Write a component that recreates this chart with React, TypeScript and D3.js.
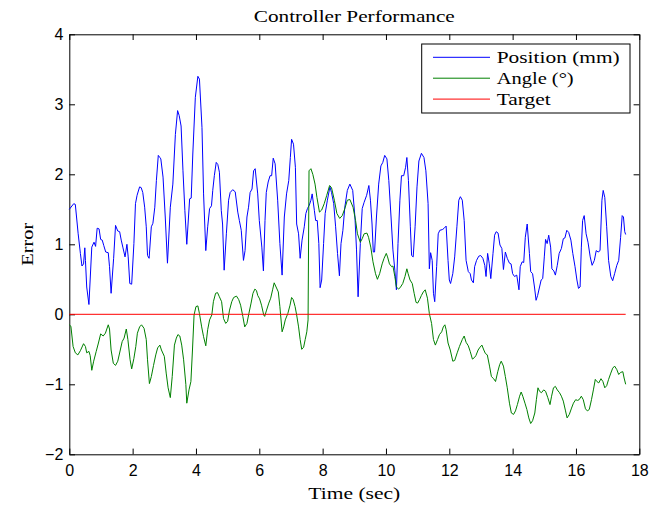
import { useEffect, useRef } from "react";
import * as d3 from "d3";

// [time (sec), error]
const positionData: [number, number][] = [
  [0, 1.5], [0.14, 1.58], [0.19, 1.57], [0.28, 1.15], [0.35, 0.87], [0.4, 0.69], [0.45, 0.72], [0.49, 0.95],
  [0.51, 0.77], [0.55, 0.39], [0.62, 0.14], [0.71, 0.96], [0.78, 1.03], [0.83, 0.97], [0.88, 1.23], [0.94, 1.22],
  [0.99, 1.07], [1.04, 1.06], [1.09, 0.98], [1.15, 0.89], [1.23, 0.88], [1.27, 0.68], [1.32, 0.3], [1.4, 0.8],
  [1.46, 1.27], [1.53, 1.19], [1.59, 1.18], [1.64, 1.06], [1.69, 0.96], [1.76, 0.82], [1.82, 1.0], [1.86, 0.82],
  [1.91, 0.44], [1.97, 0.43], [2.04, 1.01], [2.09, 1.58], [2.14, 1.7], [2.22, 1.82], [2.27, 1.81], [2.32, 1.74],
  [2.38, 1.53], [2.43, 1.25], [2.47, 0.84], [2.52, 0.8], [2.59, 1.25], [2.64, 1.3], [2.7, 1.53], [2.75, 1.91],
  [2.81, 2.27], [2.86, 2.24], [2.89, 2.22], [2.96, 1.96], [3.03, 1.39], [3.1, 0.73], [3.19, 1.53], [3.27, 1.86],
  [3.35, 2.57], [3.42, 2.91], [3.47, 2.84], [3.53, 2.69], [3.59, 2.05], [3.65, 1.48], [3.71, 1.0], [3.8, 1.65],
  [3.85, 1.66], [3.9, 2.29], [3.98, 3.1], [4.06, 3.4], [4.11, 3.36], [4.19, 2.67], [4.24, 1.72], [4.31, 0.91],
  [4.37, 1.25], [4.43, 1.51], [4.49, 1.55], [4.53, 1.77], [4.58, 1.98], [4.64, 2.17], [4.69, 2.14], [4.74, 2.03],
  [4.8, 1.48], [4.84, 1.29], [4.89, 0.63], [4.96, 1.15], [5.03, 1.63], [5.08, 1.74], [5.16, 1.78], [5.24, 1.75],
  [5.32, 1.46], [5.37, 1.34], [5.43, 1.2], [5.5, 0.77], [5.55, 0.91], [5.61, 1.39], [5.66, 1.53], [5.71, 1.74],
  [5.77, 1.79], [5.82, 2.05], [5.87, 2.08], [5.95, 1.72], [6.0, 1.34], [6.08, 0.96], [6.13, 0.62], [6.18, 1.34],
  [6.22, 1.74], [6.28, 1.89], [6.34, 1.98], [6.39, 1.98], [6.44, 2.23], [6.5, 2.15], [6.58, 1.63], [6.65, 1.01],
  [6.72, 0.56], [6.79, 1.39], [6.86, 1.72], [6.93, 1.91], [6.98, 2.24], [7.02, 2.5], [7.08, 2.43], [7.14, 2.1],
  [7.18, 1.29], [7.24, 1.15], [7.29, 0.8], [7.35, 1.06], [7.42, 1.25], [7.47, 1.44], [7.52, 1.51], [7.58, 1.56],
  [7.63, 1.63], [7.67, 1.72], [7.74, 1.48], [7.78, 1.34], [7.83, 1.34], [7.88, 1.01], [7.92, 0.38], [7.97, 0.49],
  [8.03, 1.01], [8.08, 1.44], [8.15, 1.63], [8.23, 1.82], [8.28, 1.74], [8.35, 1.58], [8.41, 1.25], [8.47, 0.87],
  [8.53, 0.55], [8.58, 1.01], [8.64, 1.2], [8.7, 1.53], [8.78, 1.77], [8.86, 1.86], [8.95, 1.77], [9.02, 1.39],
  [9.07, 0.92], [9.12, 0.25], [9.19, 1.01], [9.25, 1.51], [9.31, 1.6], [9.39, 1.7], [9.46, 1.84], [9.51, 1.63],
  [9.56, 1.29], [9.6, 0.89], [9.64, 0.89], [9.7, 1.39], [9.77, 1.86], [9.84, 2.12], [9.9, 2.17], [9.96, 2.27],
  [10.03, 2.22], [10.09, 1.91], [10.16, 1.39], [10.22, 0.92], [10.28, 0.63], [10.33, 0.35], [10.38, 1.01],
  [10.44, 1.63], [10.49, 1.98], [10.56, 1.98], [10.62, 2.1], [10.66, 2.24], [10.71, 1.91], [10.77, 1.25],
  [10.81, 0.84], [10.86, 0.82], [10.92, 1.25], [10.98, 1.82], [11.04, 2.19], [11.12, 2.3], [11.2, 2.24],
  [11.26, 2.05], [11.33, 1.58], [11.37, 0.65], [11.41, 0.88], [11.46, 0.77], [11.5, 0.3], [11.54, 0.18],
  [11.6, 0.68], [11.65, 1.15], [11.7, 1.2], [11.78, 1.21], [11.84, 1.23], [11.9, 1.26], [11.96, 0.77], [12.0, 0.49],
  [12.04, 0.44], [12.11, 0.58], [12.17, 0.82], [12.24, 1.25], [12.3, 1.63], [12.35, 1.68], [12.41, 1.63],
  [12.47, 1.34], [12.53, 0.77], [12.6, 0.61], [12.66, 0.58], [12.7, 0.49], [12.76, 0.45], [12.8, 0.68],
  [12.86, 0.77], [12.93, 0.83], [12.99, 0.84], [13.06, 0.8], [13.12, 0.7], [13.16, 0.54], [13.21, 0.87],
  [13.26, 0.73], [13.31, 0.51], [13.38, 0.87], [13.43, 1.13], [13.48, 1.18], [13.54, 1.16], [13.6, 0.99],
  [13.66, 0.94], [13.71, 0.64], [13.77, 0.89], [13.83, 0.8], [13.9, 0.73], [13.95, 0.72], [14.0, 0.58],
  [14.06, 0.54], [14.13, 0.56], [14.2, 0.35], [14.24, 0.68], [14.3, 0.75], [14.35, 0.74], [14.4, 1.1],
  [14.46, 1.29], [14.53, 0.87], [14.57, 0.61], [14.63, 0.58], [14.69, 0.39], [14.74, 0.2], [14.79, 0.27],
  [14.85, 0.39], [14.9, 0.49], [14.95, 0.51], [15.0, 0.82], [15.04, 1.07], [15.09, 1.01], [15.14, 1.13],
  [15.2, 0.96], [15.24, 0.65], [15.3, 0.62], [15.35, 0.56], [15.41, 0.7], [15.47, 0.87], [15.54, 0.94],
  [15.6, 1.08], [15.65, 1.09], [15.71, 1.2], [15.77, 1.17], [15.84, 1.06], [15.9, 0.87], [15.97, 0.68],
  [16.03, 0.49], [16.08, 0.37], [16.13, 0.39], [16.17, 0.96], [16.21, 1.34], [16.26, 1.41], [16.32, 1.15],
  [16.38, 1.03], [16.45, 0.82], [16.51, 0.7], [16.58, 0.77], [16.64, 0.91], [16.7, 0.89], [16.76, 0.91],
  [16.82, 1.63], [16.86, 1.77], [16.91, 1.67], [16.97, 1.25], [17.03, 0.77], [17.1, 0.54], [17.16, 0.48],
  [17.22, 0.58], [17.29, 0.7], [17.35, 0.77], [17.41, 1.1], [17.46, 1.41], [17.5, 1.39], [17.54, 1.18], [17.57, 1.14],
];

const angleData: [number, number][] = [
  [0, -0.15], [0.05, -0.17], [0.12, -0.46], [0.19, -0.55], [0.27, -0.58], [0.35, -0.52], [0.45, -0.42],
  [0.51, -0.46], [0.55, -0.55], [0.62, -0.53], [0.66, -0.59], [0.71, -0.8], [0.77, -0.67], [0.85, -0.53],
  [0.92, -0.41], [0.99, -0.28], [1.07, -0.31], [1.14, -0.27], [1.23, -0.15], [1.27, -0.21], [1.32, -0.51],
  [1.39, -0.7], [1.46, -0.73], [1.53, -0.67], [1.61, -0.51], [1.67, -0.39], [1.73, -0.34], [1.8, -0.21],
  [1.85, -0.36], [1.92, -0.65], [1.97, -0.78], [2.04, -0.63], [2.1, -0.46], [2.15, -0.27], [2.22, -0.18],
  [2.28, -0.15], [2.36, -0.2], [2.43, -0.36], [2.47, -0.65], [2.53, -0.99], [2.59, -0.89], [2.66, -0.73],
  [2.73, -0.58], [2.79, -0.48], [2.86, -0.44], [2.91, -0.51], [3.0, -0.6], [3.06, -0.84], [3.12, -1.05],
  [3.19, -1.19], [3.25, -0.89], [3.32, -0.44], [3.38, -0.34], [3.43, -0.29], [3.49, -0.31], [3.55, -0.44],
  [3.61, -0.65], [3.68, -1.0], [3.71, -1.27], [3.78, -1.08], [3.84, -0.96], [3.89, -0.51], [3.94, -0.01],
  [4.0, 0.11], [4.06, 0.12], [4.11, 0.01], [4.18, -0.18], [4.24, -0.32], [4.31, -0.45], [4.37, -0.22],
  [4.43, -0.08], [4.5, -0.01], [4.55, 0.18], [4.62, 0.3], [4.68, 0.31], [4.74, 0.25], [4.81, 0.18],
  [4.87, -0.06], [4.94, -0.13], [5.0, -0.1], [5.06, 0.06], [5.13, 0.18], [5.19, 0.24], [5.28, 0.26],
  [5.35, 0.21], [5.41, 0.13], [5.48, -0.03], [5.54, -0.18], [5.61, -0.13], [5.67, 0.01], [5.74, 0.16],
  [5.8, 0.3], [5.86, 0.36], [5.91, 0.34], [5.95, 0.27], [6.01, 0.22], [6.07, 0.13], [6.14, -0.01],
  [6.17, -0.03], [6.23, 0.06], [6.3, 0.16], [6.36, 0.23], [6.42, 0.35], [6.47, 0.45], [6.53, 0.39],
  [6.6, 0.32], [6.65, 0.11], [6.72, -0.25], [6.77, -0.18], [6.82, -0.08], [6.9, 0.01], [6.97, 0.13],
  [7.02, 0.24], [7.07, 0.21], [7.13, 0.11], [7.18, -0.01], [7.24, -0.18], [7.29, -0.36], [7.34, -0.5],
  [7.4, -0.47], [7.45, -0.36], [7.5, -0.25], [7.54, -0.08], [7.57, 2.05], [7.63, 2.08], [7.69, 2.0],
  [7.76, 1.86], [7.82, 1.67], [7.9, 1.46], [7.97, 1.49], [8.05, 1.58], [8.13, 1.7], [8.22, 1.84],
  [8.28, 1.81], [8.37, 1.63], [8.45, 1.44], [8.54, 1.37], [8.62, 1.41], [8.7, 1.51], [8.78, 1.63],
  [8.86, 1.64], [8.96, 1.53], [9.04, 1.34], [9.1, 1.15], [9.19, 1.03], [9.25, 1.08], [9.31, 1.15],
  [9.4, 1.16], [9.45, 1.1], [9.52, 0.96], [9.59, 0.75], [9.67, 0.58], [9.73, 0.5], [9.8, 0.58], [9.88, 0.72],
  [9.94, 0.8], [10.01, 0.87], [10.05, 0.82], [10.11, 0.72], [10.18, 0.68], [10.22, 0.69], [10.28, 0.54],
  [10.33, 0.39], [10.4, 0.36], [10.46, 0.39], [10.53, 0.44], [10.6, 0.54], [10.66, 0.65], [10.7, 0.58],
  [10.76, 0.49], [10.83, 0.44], [10.89, 0.3], [10.95, 0.17], [11.0, 0.16], [11.06, 0.21], [11.12, 0.27],
  [11.18, 0.32], [11.24, 0.35], [11.31, 0.23], [11.37, 0.01], [11.44, -0.13], [11.5, -0.36], [11.56, -0.44],
  [11.63, -0.36], [11.69, -0.29], [11.76, -0.25], [11.81, -0.18], [11.86, -0.15], [11.9, -0.22],
  [11.96, -0.41], [12.03, -0.51], [12.11, -0.67], [12.17, -0.66], [12.25, -0.55], [12.32, -0.46],
  [12.41, -0.36], [12.47, -0.31], [12.53, -0.4], [12.6, -0.45], [12.66, -0.53], [12.73, -0.64],
  [12.79, -0.62], [12.84, -0.59], [12.91, -0.51], [12.97, -0.47], [13.03, -0.44], [13.09, -0.51],
  [13.14, -0.56], [13.2, -0.58], [13.27, -0.74], [13.33, -0.89], [13.4, -0.92], [13.46, -0.96],
  [13.53, -0.82], [13.59, -0.72], [13.64, -0.67], [13.71, -0.74], [13.77, -0.89], [13.83, -1.05],
  [13.9, -1.27], [13.96, -1.41], [14.03, -1.43], [14.09, -1.38], [14.15, -1.29], [14.22, -1.17],
  [14.27, -1.11], [14.32, -1.17], [14.39, -1.27], [14.45, -1.36], [14.51, -1.48], [14.57, -1.56],
  [14.63, -1.52], [14.7, -1.41], [14.75, -1.22], [14.8, -1.05], [14.85, -1.1], [14.91, -1.12],
  [14.98, -1.08], [15.04, -1.1], [15.11, -1.19], [15.18, -1.29], [15.23, -1.17], [15.29, -1.05],
  [15.35, -1.03], [15.41, -1.08], [15.48, -1.12], [15.54, -1.17], [15.6, -1.24], [15.67, -1.38],
  [15.72, -1.48], [15.79, -1.43], [15.86, -1.34], [15.92, -1.27], [15.99, -1.22], [16.05, -1.23],
  [16.1, -1.22], [16.17, -1.17], [16.23, -1.22], [16.3, -1.35], [16.36, -1.38], [16.42, -1.36],
  [16.49, -1.22], [16.55, -1.08], [16.61, -0.93], [16.66, -0.96], [16.72, -0.98], [16.79, -0.92],
  [16.85, -0.96], [16.91, -1.05], [16.97, -1.02], [17.03, -0.93], [17.1, -0.84], [17.16, -0.77],
  [17.22, -0.74], [17.29, -0.79], [17.35, -0.86], [17.41, -0.83], [17.48, -0.82], [17.52, -0.91], [17.57, -1.0],
];

const targetData: [number, number][] = [[0, 0], [17.57, 0]];

const seriesNames = ["Position (mm)", "Angle (\u00b0)", "Target"];
const seriesColors = ["#0000ff", "#008000", "#ff0000"];
const xTicks = [0, 2, 4, 6, 8, 10, 12, 14, 16, 18];
const yTicks = [-2, -1, 0, 1, 2, 3, 4];

export default function App() {
  const gRef = useRef<SVGGElement>(null);

  const margin = { top: 34.3, left: 69.3, right: 20.7, bottom: 51.7 };
  const W = 660, H = 506;
  const width = W - margin.left - margin.right;
  const height = H - margin.top - margin.bottom;

  useEffect(() => {
    const g = d3.select(gRef.current);

    const x = d3.scaleLinear().domain([0, 18]).range([0, width]);
    const y = d3.scaleLinear().domain([-2, 4]).range([height, 0]);

    const sans = "'Liberation Sans', Arial, Helvetica, sans-serif";
    const tick = 5.7;
    const fmt = d3.format("d");

    // bottom & left axes with labels, top & right mirrored
    const bottom = g.append("g").attr("transform", `translate(0,${height})`)
      .call(d3.axisBottom(x).tickValues(xTicks).tickFormat(fmt).tickSizeInner(-tick).tickSizeOuter(0).tickPadding(10));
    const left = g.append("g")
      .call(d3.axisLeft(y).tickValues(yTicks).tickFormat(fmt).tickSizeInner(-tick).tickSizeOuter(0).tickPadding(6));
    g.append("g")
      .call(d3.axisTop(x).tickValues(xTicks).tickSizeInner(-tick).tickSizeOuter(0).tickFormat(() => ""));
    g.append("g").attr("transform", `translate(${width},0)`)
      .call(d3.axisRight(y).tickValues(yTicks).tickSizeInner(-tick).tickSizeOuter(0).tickFormat(() => ""));

    [bottom, left].forEach(a => a.attr("font-family", sans).attr("font-size", 16));
    g.selectAll(".domain, .tick line").attr("stroke", "#000").attr("stroke-width", 1);
    g.selectAll(".tick text").attr("fill", "#000");

    const line = d3.line<[number, number]>()
      .x(d => x(d[0]))
      .y(d => y(d[1]));

    [positionData, angleData, targetData].forEach((data, i) => {
      g.append("path")
        .datum(data)
        .attr("fill", "none")
        .attr("stroke", seriesColors[i])
        .attr("stroke-width", 1)
        .attr("stroke-linejoin", "round")
        .attr("d", line);
    });

    // legend
    const lg = g.append("g").attr("transform", `translate(${352.4},${9.7})`);
    lg.append("rect")
      .attr("width", 208.3).attr("height", 69)
      .attr("fill", "#fff").attr("stroke", "#000").attr("stroke-width", 1);
    const widths = [123, 77, 54];
    seriesNames.forEach((name, i) => {
      const yy = 13.3 + i * 20.9;
      lg.append("line")
        .attr("x1", 11.3).attr("x2", 68.3).attr("y1", yy).attr("y2", yy)
        .attr("stroke", seriesColors[i]).attr("stroke-width", 1);
      lg.append("text")
        .attr("x", 75).attr("y", yy + 5.5)
        .attr("font-family", "'Liberation Serif', 'Times New Roman', serif")
        .attr("font-size", 17)
        .attr("textLength", widths[i])
        .attr("lengthAdjust", "spacingAndGlyphs")
        .attr("fill", "#000")
        .text(name);
    });

    return () => { g.selectAll("*").remove(); };
  }, []);

  const serif = "'Liberation Serif', 'Times New Roman', serif";

  return (
    <svg width={W} height={H} style={{ position: "absolute", left: 0, top: 0, background: "#fff" }}>
      <text x={margin.left + width / 2} y={22} textAnchor="middle" fontFamily={serif} fontSize={16}
        textLength={201} lengthAdjust="spacingAndGlyphs">Controller Performance</text>
      <text x={margin.left + width / 2} y={499} textAnchor="middle" fontFamily={serif} fontSize={16}
        textLength={92} lengthAdjust="spacingAndGlyphs">Time (sec)</text>
      <text transform={`translate(33,${margin.top + height / 2}) rotate(-90)`} textAnchor="middle"
        fontFamily={serif} fontSize={16} textLength={43} lengthAdjust="spacingAndGlyphs">Error</text>
      <g ref={gRef} transform={`translate(${margin.left},${margin.top})`}></g>
    </svg>
  );
}
